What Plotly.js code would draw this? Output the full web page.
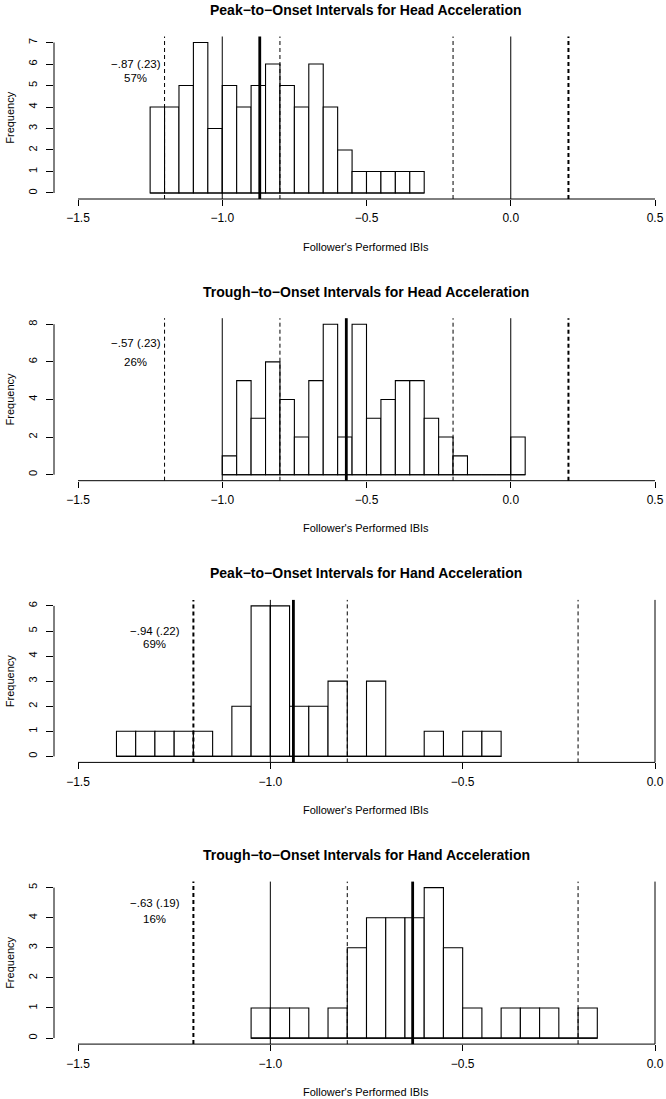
<!DOCTYPE html>
<html><head><meta charset="utf-8">
<script src="https://cdn.plot.ly/plotly-3.0.1.min.js"></script>
<style>html,body{margin:0;padding:0;background:#fff;overflow:hidden}#chart{width:666px;height:1099px}</style>
</head><body><div id="chart"></div>
<script>
// ---- data ----
const panelTitles = [
  "Peak\u2212to\u2212Onset Intervals for Head Acceleration",
  "Trough\u2212to\u2212Onset Intervals for Head Acceleration",
  "Peak\u2212to\u2212Onset Intervals for Hand Acceleration",
  "Trough\u2212to\u2212Onset Intervals for Hand Acceleration"
];
const xLabel = "Follower's Performed IBIs";
const yLabel = "Frequency";
const binWidth = 0.05;
const binStarts = [-1.25, -1.0, -1.40, -1.05];
const countsHeadPeak   = [4,4,5,7,3,5,4,5,6,5,4,6,4,2,1,1,1,1,1];
const countsHeadTrough = [1,5,3,6,4,2,5,8,2,8,3,4,5,5,3,2,1,0,0,0,2];
const countsHandPeak   = [1,1,1,1,1,0,2,6,6,2,2,3,0,3,0,0,1,0,1,1];
const countsHandTrough = [1,1,1,0,1,3,4,4,4,5,3,1,0,1,1,1,0,1];
const yMaxTicks = [7, 8, 6, 5];
const yTickSteps = [1, 2, 1, 1];
const xTicksHead = [-1.5, -1.0, -0.5, 0.0, 0.5];
const xTicksHand = [-1.5, -1.0, -0.5, 0.0];
const xTickTextHead = ["\u22121.5", "\u22121.0", "\u22120.5", "0.0", "0.5"];
const xTickTextHand = ["\u22121.5", "\u22121.0", "\u22120.5", "0.0"];
const meanValues = [-0.87, -0.57, -0.94, -0.63];
const solidRefs = [[-1.0, 0.0], [-1.0, 0.0], [-1.0, 0.0], [-1.0, 0.0]];
const dashedThin = [[-1.2, -0.8, -0.2], [-1.2, -0.8, -0.2], [-0.8, -0.2], [-0.8, -0.2]];
const dashedThick = [[0.2], [0.2], [-1.2], [-1.2]];
const statLabels = ["\u2212.87 (.23)", "\u2212.57 (.23)", "\u2212.94 (.22)", "\u2212.63 (.19)"];
const pctLabels = ["57%", "26%", "69%", "16%"];
const labelX = -1.3;
const statLabelY = [6.0, 7.0, 5.0, 4.5];
const pctLabelY = [5.37, 6.0, 4.47, 3.96];

// ---- layout constants ----
const W = 666, H = 1099;
const FONT = 'Liberation Sans, Arial, Helvetica, sans-serif';
const plotLeftPx = 54;
const tickMinPx = 78, tickMaxPx = 655;
const panelBottomPx = [199, 480.7, 762.4, 1044.1];
const regionHeightPx = 162.5;

const allCounts = [countsHeadPeak, countsHeadTrough, countsHandPeak, countsHandTrough];
const allXTicks = [xTicksHead, xTicksHead, xTicksHand, xTicksHand];
const allXTickText = [xTickTextHead, xTickTextHead, xTickTextHand, xTickTextHand];

const traces = [], shapes = [], annotations = [];
const layout = {
  width: W, height: H, margin: {l:0, r:0, t:0, b:0},
  paper_bgcolor: '#fff', plot_bgcolor: '#fff', showlegend: false,
  font: {family: FONT, color: '#000', size: 11},
  bargap: 0
};
const py = px => 1 - px / H;

for (let p = 0; p < 4; p++) {
  const n = p + 1;
  const xa = n === 1 ? 'x' : 'x' + n, ya = n === 1 ? 'y' : 'y' + n;
  const xKey = n === 1 ? 'xaxis' : 'xaxis' + n, yKey = n === 1 ? 'yaxis' : 'yaxis' + n;
  const ticks = allXTicks[p];
  const tMin = ticks[0], tMax = ticks[ticks.length - 1];
  const unit = (tickMaxPx - tickMinPx) / (tMax - tMin);
  const xr = [tMin - (tickMinPx - plotLeftPx) / unit, tMin + (W - tickMinPx) / unit];
  const ymax = yMaxTicks[p];
  const yr = [-0.04 * ymax, 1.04 * ymax];
  const bottom = panelBottomPx[p], top = bottom - regionHeightPx;
  const counts = allCounts[p];
  const start = binStarts[p];

  layout[xKey] = {
    domain: [plotLeftPx / W, 1], range: xr, anchor: ya, automargin: false,
    showgrid: false, zeroline: false, showline: false,
    ticks: 'outside', ticklen: 6, tickwidth: 1, tickcolor: '#000',
    tickvals: ticks, ticktext: allXTickText[p], tickfont: {size: 12, family: FONT},
    ticklabelstandoff: 2, fixedrange: true
  };
  const yt = [];
  for (let v = 0; v <= ymax; v += yTickSteps[p]) yt.push(v);
  layout[yKey] = {
    domain: [py(bottom), py(top)], range: yr, anchor: xa, automargin: false,
    showgrid: false, zeroline: false, showline: false,
    ticks: 'outside', ticklen: 7, tickwidth: 1, tickcolor: '#000',
    tickvals: yt, tickangle: -90, tickfont: {size: 11, family: FONT},
    ticklabelstandoff: 5, fixedrange: true
  };

  traces.push({
    type: 'bar', xaxis: xa, yaxis: ya,
    x: counts.map((c, i) => start + binWidth * (i + 0.5)), y: counts,
    width: binWidth,
    marker: {color: '#fff', line: {color: '#000', width: 1.1}},
    hoverinfo: 'skip'
  });
  traces.push({
    type: 'scatter', mode: 'lines', xaxis: xa, yaxis: ya,
    x: [start, start + binWidth * counts.length], y: [0, 0],
    line: {color: '#000', width: 1.1}, hoverinfo: 'skip'
  });

  const vline = (v, width, dash) => shapes.push({
    type: 'line', xref: xa, yref: ya + ' domain', x0: v, x1: v, y0: 0, y1: 1,
    line: {color: '#000', width: width, dash: dash}
  });
  solidRefs[p].forEach(v => vline(v, 1, 'solid'));
  dashedThin[p].forEach(v => vline(v, 1, '4px,3px'));
  dashedThick[p].forEach(v => vline(v, 2, '4px,3px'));
  vline(meanValues[p], 2.8, 'solid');

  // R-style axis lines
  shapes.push({type: 'line', xref: xa, yref: ya + ' domain', x0: tMin, x1: tMax, y0: 0, y1: 0,
    line: {color: '#000', width: 1}});
  shapes.push({type: 'line', xref: xa + ' domain', yref: ya, x0: 0, x1: 0, y0: 0, y1: ymax,
    line: {color: '#000', width: 1}});

  annotations.push({xref: 'paper', yref: 'paper', x: 366 / W, y: py(bottom - 189),
    text: panelTitles[p], showarrow: false, xanchor: 'center', yanchor: 'middle',
    font: {size: 14, family: FONT, weight: 'bold', color: '#000'}});
  annotations.push({xref: 'paper', yref: 'paper', x: 366 / W, y: py(bottom + 47.6),
    text: xLabel, showarrow: false, xanchor: 'center', yanchor: 'middle',
    font: {size: 11, family: FONT, color: '#000'}});
  annotations.push({xref: 'paper', yref: 'paper', x: 10 / W, y: py(bottom - regionHeightPx / 2),
    text: yLabel, showarrow: false, xanchor: 'center', yanchor: 'middle', textangle: -90,
    font: {size: 11, family: FONT, color: '#000'}});
  annotations.push({xref: xa, yref: ya, x: labelX, y: statLabelY[p], text: statLabels[p],
    showarrow: false, xanchor: 'center', yanchor: 'middle', font: {size: 11.5, family: FONT, color: '#000'}});
  annotations.push({xref: xa, yref: ya, x: labelX, y: pctLabelY[p], text: pctLabels[p],
    showarrow: false, xanchor: 'center', yanchor: 'middle', font: {size: 11.5, family: FONT, color: '#000'}});
}
layout.shapes = shapes;
layout.annotations = annotations;
Plotly.newPlot('chart', traces, layout, {displayModeBar: false, staticPlot: true});
</script></body></html>
